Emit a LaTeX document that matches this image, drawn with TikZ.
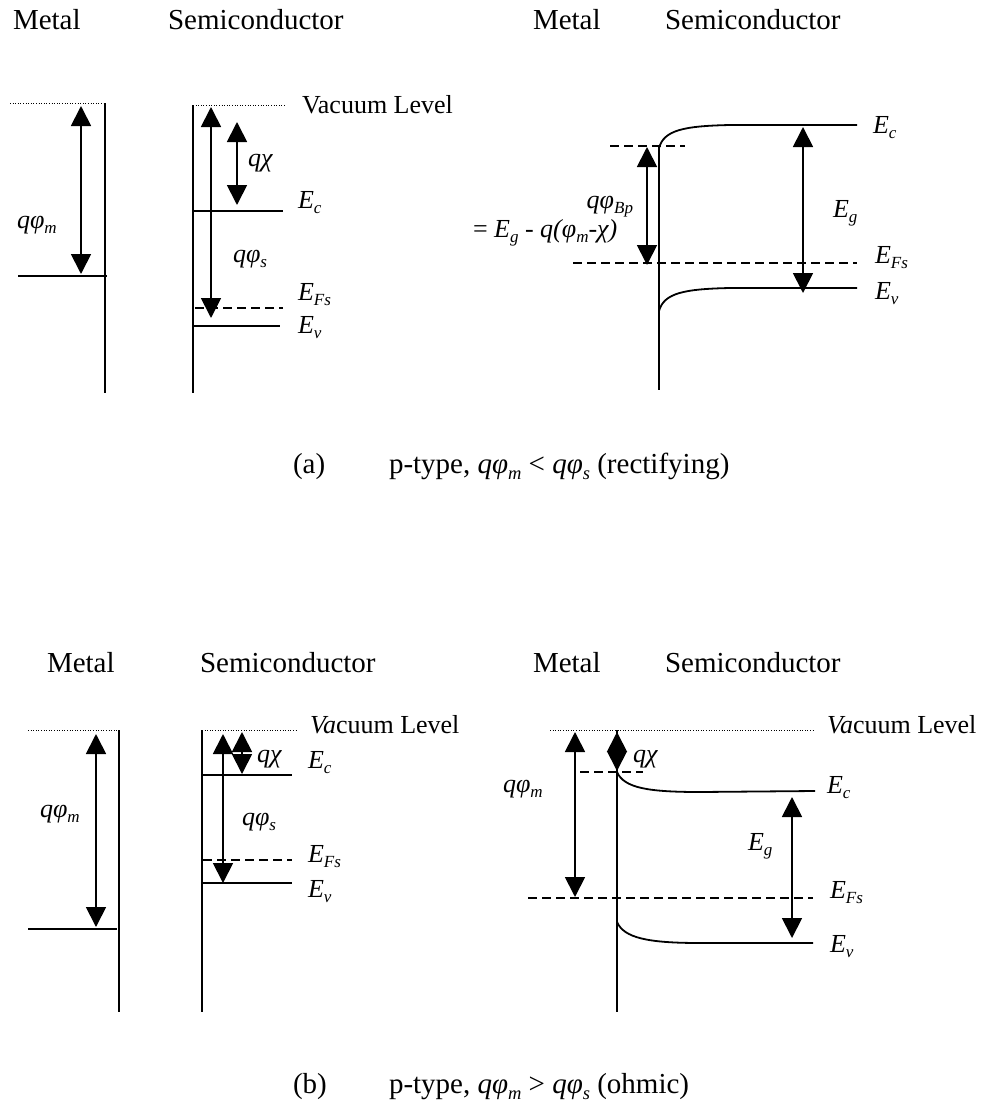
\documentclass[tikz,border=0pt]{standalone}
\usepackage{fontspec}
\setmainfont{Liberation Serif}
\usetikzlibrary{arrows.meta}
\newcommand{\lsub}[1]{\raisebox{-0.22em}{\fontsize{17}{17}\selectfont #1}}
\newcommand{\lsubc}[1]{\raisebox{-0.22em}{\fontsize{18.5}{18.5}\selectfont #1}}
\newcommand{\Elab}[1]{\textit{E}\lsub{\textit{#1}}}
\newcommand{\qphi}[1]{\textit{qφ}\lsub{\textit{#1}}}
\newcommand{\qphic}[1]{\textit{qφ}\lsubc{\textit{#1}}}
\tikzset{
  lvl/.style={line width=1.8pt},
  vac/.style={line width=1pt, dash pattern=on 1pt off 1.6pt},
  dsh/.style={line width=1.8pt, dash pattern=on 9pt off 5pt},
  dim/.style={line width=1.8pt, {Triangle[length=20pt,width=20pt]}-{Triangle[length=20pt,width=20pt]}},
  lab/.style={anchor=base west, inner sep=0pt, outer sep=0pt, font=\fontsize{26}{31}\selectfont},
  labr/.style={anchor=base east, inner sep=0pt, outer sep=0pt, font=\fontsize{26}{31}\selectfont},
  head/.style={anchor=base west, inner sep=0pt, outer sep=0pt, font=\fontsize{29}{34}\selectfont},
}
\begin{document}
\begin{tikzpicture}[x=1pt,y=-1pt]
\useasboundingbox (0,0) rectangle (986,1103);
\fill[white] (0,0) rectangle (986,1103);

% ================= (a) =================
\node[head] (hMa) at (13,29) {Metal};
\node[head] (hSa) at (168,29) {Semiconductor};
\node[head] (hMa2) at (533,29) {Metal};
\node[head] (hSa2) at (665,29) {Semiconductor};

% left metal
\draw[vac] (10,103) -- (105,103);
\draw[lvl] (105,103) -- (105,393);
\draw[lvl] (18,276) -- (107,276);
\draw[dim] (81,106) -- (81,274);
\node[lab] (aqpm) at (17,228) {\qphi{m}};

% left semiconductor
\draw[vac] (193,105) -- (285,105);
\node[lab] (avac) at (302,113) {Vacuum Level};
\draw[lvl] (193,105) -- (193,393);
\draw[lvl] (193,211) -- (283,211);
\draw[dsh] (195,308) -- (283,308);
\draw[lvl] (193,326) -- (280,326);
\draw[dim] (211,107) -- (211,318);
\draw[dim] (237,122) -- (237,205);
\node[lab] (aqchi) at (248,166) {\textit{qχ}};
\node[lab] (aqps) at (233,262) {\qphi{s}};
\node[lab] (aEc) at (298,208) {\Elab{c}};
\node[lab] (aEF) at (298,300) {\Elab{Fs}};
\node[lab] (aEv) at (298,333) {\Elab{v}};

% right (contact)
\draw[lvl] (659,147) -- (659,390);
\draw[lvl] (659,148) .. controls (664,130) and (684,126) .. (730,125) -- (857,125);
\draw[lvl] (659,311) .. controls (664,293) and (684,289) .. (730,288) -- (857,288);
\draw[dsh] (610,146) -- (685,146);
\draw[dsh] (573,263) -- (857,263);
\draw[dim] (647,147) -- (647,265);
\draw[dim] (803,127) -- (803,293);
\node[labr] (aqpb) at (633,208) {\textit{qφ}\lsub{\textit{Bp}}};
\node[lab] (aeq) at (473,237) {= \textit{E\lsub{g} - q(φ\lsub{m}-χ)}};
\node[lab] (aEc2) at (873,133) {\Elab{c}};
\node[lab] (aEg2) at (833,217) {\Elab{g}};
\node[lab] (aEF2) at (875,263) {\Elab{Fs}};
\node[lab] (aEv2) at (875,299) {\Elab{v}};

\node[head] (capa) at (293,473) {(a)};
\node[head] (capat) at (389,473) {p-type, \qphic{m} < \qphic{s} (rectifying)};

% ================= (b) =================
\node[head] (hMb) at (47,672) {Metal};
\node[head] (hSb) at (200,672) {Semiconductor};
\node[head] (hMb2) at (533,672) {Metal};
\node[head] (hSb2) at (665,672) {Semiconductor};

% left metal
\draw[vac] (28,730) -- (119,730);
\draw[lvl] (119,730) -- (119,1012);
\draw[lvl] (28,929) -- (117,929);
\draw[dim] (96,734) -- (96,927);
\node[lab] (bqpm) at (40,817) {\qphi{m}};

% left semiconductor
\draw[vac] (202,730) -- (298,730);
\node[lab] (bvac) at (310,733) {\textit{Va}cuum Level};
\draw[lvl] (202,730) -- (202,1012);
\draw[lvl] (202,775) -- (292,775);
\draw[dsh] (203,860) -- (292,860);
\draw[lvl] (202,883) -- (292,883);
\draw[dim] (223,734) -- (223,883);
\draw[dim] (242,732) -- (242,774);
\node[lab] (bqchi) at (257,762) {\textit{qχ}};
\node[lab] (bqps) at (242,825) {\qphi{s}};
\node[lab] (bEc) at (308,768) {\Elab{c}};
\node[lab] (bEF) at (308,862) {\Elab{Fs}};
\node[lab] (bEv) at (308,897) {\Elab{v}};

% right (contact)
\draw[vac] (550,730) -- (815,730);
\node[lab] (bvac2) at (827,733) {\textit{Va}cuum Level};
\draw[lvl] (617,730) -- (617,1012);
\draw[lvl] (617,772) .. controls (624,788) and (648,792) .. (700,792) -- (815,791);
\draw[lvl] (617,922) .. controls (624,938) and (648,943) .. (700,943) -- (813,943);
\draw[dsh] (580,772) -- (643,772);
\draw[dsh] (528,898) -- (813,898);
\draw[dim] (575,732) -- (575,897);
\draw[dim] (617,732) -- (617,771);
\draw[dim] (792,797) -- (792,938);
\node[lab] (bqchi2) at (633,762) {\textit{qχ}};
\node[lab] (bqpm2) at (503,792) {\qphi{m}};
\node[lab] (bEc2) at (827,793) {\Elab{c}};
\node[lab] (bEg2) at (748,850) {\Elab{g}};
\node[lab] (bEF2) at (830,898) {\Elab{Fs}};
\node[lab] (bEv2) at (830,952) {\Elab{v}};

\node[head] (capb) at (293,1093) {(b)};
\node[head] (capbt) at (389,1093) {p-type, \qphic{m} > \qphic{s} (ohmic)};
\end{tikzpicture}
\end{document}
